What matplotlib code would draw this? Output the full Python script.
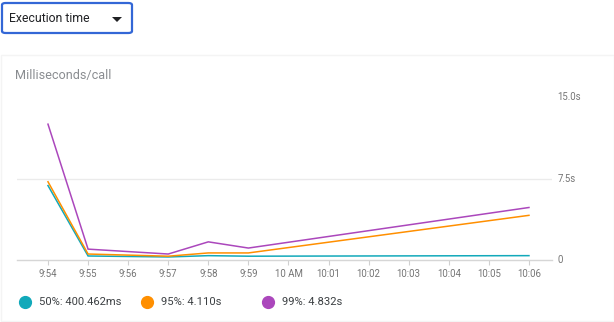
import matplotlib
matplotlib.use("Agg")
import matplotlib.pyplot as plt
from matplotlib.patches import FancyBboxPatch, Rectangle, Polygon

plt.rcParams["font.family"] = ["Roboto", "DejaVu Sans"]

# minute ticks along the x axis
tick_labels = ["9:54", "9:55", "9:56", "9:57", "9:58", "9:59", "10 AM",
               "10:01", "10:02", "10:03", "10:04", "10:05", "10:06"]

# sample times (only minutes that have data)
times = ["9:54", "9:55", "9:57", "9:58", "9:59", "10:06"]

# seconds per call
p50 = [6.85, 0.37, 0.28, 0.40, 0.35, 0.400462]
p95 = [7.20, 0.55, 0.35, 0.65, 0.65, 4.110]
p99 = [12.5, 1.00, 0.55, 1.67, 1.10, 4.832]

series = [
    ("50%: 400.462ms", p50, "#12A9BA"),
    ("95%: 4.110s", p95, "#FF8F00"),
    ("99%: 4.832s", p99, "#AB47BC"),
]

W, H = 614, 322
fig = plt.figure(figsize=(W / 100, H / 100), dpi=100)


def fx(px):
    return px / W


def fy(py):
    return 1 - py / H


# card background outline (kept behind everything)
fig.patches.append(Rectangle((fx(0.5), fy(321)), fx(613), (321 - 55) / H,
                             transform=fig.transFigure, facecolor="white",
                             edgecolor="#f4f4f4", lw=1, zorder=-10))

# dropdown selector
fig.patches.append(FancyBboxPatch((fx(2), fy(33)), fx(130), 30 / H,
                                  boxstyle="round,pad=0,rounding_size=0.006",
                                  transform=fig.transFigure, facecolor="white",
                                  edgecolor="#3367D6", lw=1.6))
fig.text(fx(9), fy(19), "Execution time", fontsize=8.8, color="#202124",
         va="center", ha="left")
fig.patches.append(Polygon([(fx(112), fy(17)), (fx(122), fy(17)), (fx(117), fy(22))],
                           closed=True, transform=fig.transFigure,
                           facecolor="#202124", edgecolor="none"))

fig.text(fx(15), fy(76), "Milliseconds/call", fontsize=9.1, color="#8a8d91",
         va="center", ha="left")

# plot area
ax = fig.add_axes([fx(17), fy(260), fx(535), 163 / H])
ax.set_zorder(5)
xpos = [tick_labels.index(t) for t in times]
for name, vals, color in series:
    ax.plot(xpos, vals, color=color, lw=1.1, solid_joinstyle="miter")

ax.set_xlim(-0.773, 12.575)
ax.set_ylim(0, 15)
ax.set_xticks(range(len(tick_labels)))
ax.set_xticklabels(tick_labels)
ax.set_yticks([0, 7.5, 15])
ax.set_yticklabels(["0", "7.5s", "15.0s"])
ax.yaxis.tick_right()
ax.tick_params(axis="y", length=0, pad=4, labelsize=6.9, labelcolor="#757575")
ax.tick_params(axis="x", length=3.5, width=0.8, color="#d0d0d0", pad=3,
               labelsize=6.9, labelcolor="#757575")
for tl in ax.get_yticklabels():
    tl.set_verticalalignment("center")

ax.axhline(7.5, color="#ebebeb", lw=1, zorder=0)
for s in ["top", "left", "right"]:
    ax.spines[s].set_visible(False)
ax.spines["bottom"].set_color("#d6d6d6")
ax.spines["bottom"].set_linewidth(1)
ax.set_facecolor("none")

# legend
legend_x = [25, 147, 268]
for (name, vals, color), lx in zip(series, legend_x):
    fig.lines.append(plt.Line2D([fx(lx)], [fy(302)], marker="o", markersize=8.5,
                                color=color, transform=fig.transFigure))
    fig.text(fx(lx + 14), fy(302), name, fontsize=8.1, color="#3c4043",
             va="center", ha="left")

fig.savefig("out.png", dpi=100)
